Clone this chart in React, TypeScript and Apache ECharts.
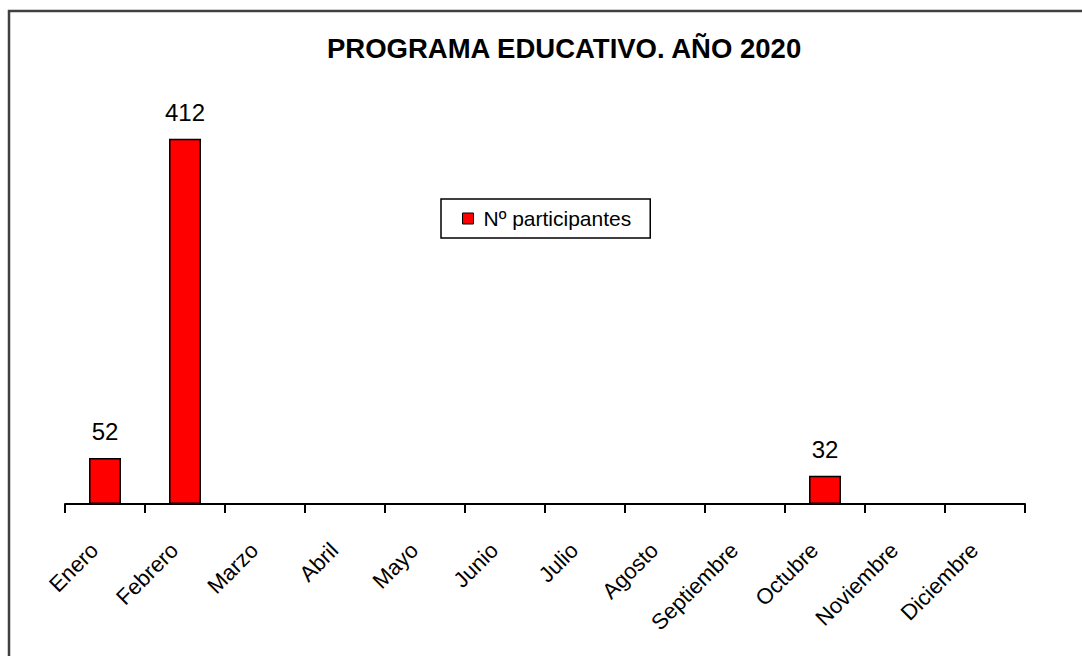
import React, { useEffect, useRef } from "react";
import * as echarts from "echarts";

const categories = [
  "Enero", "Febrero", "Marzo", "Abril", "Mayo", "Junio",
  "Julio", "Agosto", "Septiembre", "Octubre", "Noviembre", "Diciembre",
];
const participantes = [52, 412, null, null, null, null, null, null, null, 32, null, null];
const seriesName = "Nº participantes";
const titleText = "PROGRAMA EDUCATIVO. AÑO 2020";

const FONT = "'Liberation Sans', Arial, sans-serif";

export default function App() {
  const ref = useRef<HTMLDivElement>(null);
  useEffect(() => {
    if (!ref.current) return;
    const chart = echarts.init(ref.current, undefined, { renderer: "svg" });
    chart.setOption({
      animation: false,
      backgroundColor: "#ffffff",
      textStyle: { fontFamily: FONT },
      title: {
        text: titleText,
        left: 327,
        top: 34,
        padding: 0,
        textStyle: { fontSize: 27.5, fontWeight: "bold", color: "#000", fontFamily: FONT },
      },
      legend: {
        data: [seriesName],
        left: 441,
        top: 199,
        orient: "horizontal",
        padding: [9, 19, 9, 21],
        borderColor: "#000",
        borderWidth: 1.5,
        backgroundColor: "#fff",
        borderRadius: 0,
        icon: "rect",
        itemWidth: 11,
        itemHeight: 11,
        itemStyle: { borderColor: "#000", borderWidth: 1 },
        textStyle: { fontSize: 21, color: "#000", fontFamily: FONT, padding: [0, 0, 0, 5] },
      },
      grid: { left: 65, right: 57, top: 105, bottom: 152, containLabel: false },
      xAxis: {
        type: "category",
        data: categories,
        boundaryGap: true,
        axisLine: { lineStyle: { color: "#000", width: 2 } },
        axisTick: { show: true, length: 9, lineStyle: { color: "#000", width: 2 } },
        axisLabel: {
          rotate: 45,
          interval: 0,
          margin: 32,
          fontSize: 22,
          color: "#000",
          fontFamily: FONT,
          padding: [0, 15, 0, 0],
        },
      },
      yAxis: {
        type: "value",
        min: 0,
        max: 450,
        show: false,
        splitLine: { show: false },
      },
      series: [
        {
          name: seriesName,
          type: "bar",
          data: participantes,
          barWidth: 32,
          itemStyle: { color: "#ff0000", borderColor: "#000", borderWidth: 1.5 },
          label: {
            show: true,
            position: "top",
            distance: 14,
            fontSize: 24,
            color: "#000",
            fontFamily: FONT,
          },
        },
      ],
      graphic: [
        {
          type: "rect",
          shape: { x: 9, y: 11, width: 1200, height: 800 },
          style: { fill: "none", stroke: "#404040", lineWidth: 2.5 },
          silent: true,
          z: 100,
        },
      ],
    });
    return () => chart.dispose();
  }, []);
  return (
    <div
      ref={ref}
      style={{ position: "fixed", left: 0, top: 0, width: 1082, height: 656 }}
    />
  );
}
